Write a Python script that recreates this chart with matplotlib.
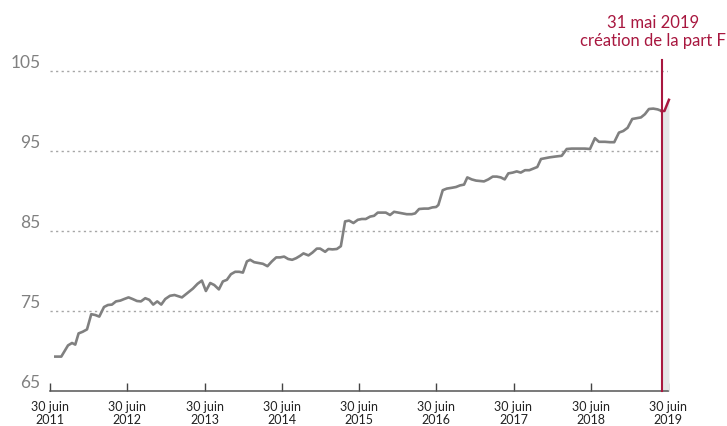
import matplotlib
matplotlib.use("Agg")
from matplotlib import pyplot as plt

# valeur liquidative (base ~100), dates en années décimales
dates = [2011.565, 2011.642, 2011.729, 2011.781, 2011.823, 2011.866, 2011.918, 2011.975,
         2012.030, 2012.082, 2012.134, 2012.195, 2012.246, 2012.298, 2012.350, 2012.406,
         2012.457, 2012.513, 2012.565, 2012.622, 2012.673, 2012.729, 2012.781, 2012.832,
         2012.884, 2012.936, 2012.988, 2013.049, 2013.108, 2013.204, 2013.268, 2013.346,
         2013.406, 2013.462, 2013.514, 2013.570, 2013.622, 2013.682, 2013.734, 2013.786,
         2013.838, 2013.893, 2013.945, 2013.993, 2014.045, 2014.087, 2014.139, 2014.195,
         2014.252, 2014.311, 2014.368, 2014.424, 2014.475, 2014.527, 2014.579, 2014.631,
         2014.682, 2014.734, 2014.777, 2014.842, 2014.893, 2014.950, 2014.993, 2015.058,
         2015.100, 2015.152, 2015.209, 2015.261, 2015.316, 2015.368, 2015.424, 2015.481,
         2015.532, 2015.584, 2015.640, 2015.691, 2015.739, 2015.799, 2015.843, 2015.898,
         2015.950, 2016.006, 2016.057, 2016.114, 2016.179, 2016.222, 2016.274, 2016.338,
         2016.394, 2016.446, 2016.494, 2016.523, 2016.580, 2016.632, 2016.697, 2016.752,
         2016.804, 2016.856, 2016.898, 2016.955, 2017.011, 2017.063, 2017.114, 2017.170,
         2017.227, 2017.279, 2017.331, 2017.382, 2017.429, 2017.486, 2017.538, 2017.590,
         2017.645, 2017.701, 2017.753, 2017.804, 2017.852, 2017.904, 2017.959, 2018.033,
         2018.120, 2018.185, 2018.249, 2018.335, 2018.421, 2018.486, 2018.550, 2018.602,
         2018.680, 2018.745, 2018.800, 2018.861, 2018.917, 2018.973, 2019.033, 2019.090,
         2019.146, 2019.197, 2019.249, 2019.305, 2019.362, 2019.414]
values = [69.3, 69.3, 70.7, 71.0, 70.8, 72.2, 72.4, 72.7,
          74.6, 74.5, 74.3, 75.5, 75.75, 75.8, 76.2, 76.3,
          76.5, 76.7, 76.5, 76.25, 76.2, 76.6, 76.4, 75.8,
          76.2, 75.8, 76.5, 76.9, 77.0, 76.7, 77.2, 77.8,
          78.4, 78.8, 77.5, 78.5, 78.25, 77.7, 78.7, 78.9,
          79.6, 79.9, 79.9, 79.8, 81.2, 81.4, 81.1, 81.0,
          80.9, 80.6, 81.2, 81.7, 81.7, 81.8, 81.5, 81.4,
          81.6, 81.9, 82.2, 81.95, 82.3, 82.8, 82.8, 82.4,
          82.75, 82.7, 82.75, 83.1, 86.2, 86.3, 86.0, 86.4,
          86.5, 86.5, 86.8, 86.9, 87.3, 87.3, 87.3, 87.0,
          87.4, 87.3, 87.2, 87.1, 87.1, 87.2, 87.75, 87.8,
          87.8, 87.95, 88.0, 88.25, 90.1, 90.3, 90.4, 90.5,
          90.7, 90.8, 91.7, 91.45, 91.3, 91.25, 91.2, 91.45,
          91.8, 91.8, 91.7, 91.45, 92.2, 92.3, 92.45, 92.3,
          92.6, 92.6, 92.8, 93.0, 94.0, 94.1, 94.2, 94.3,
          94.4, 95.25, 95.3, 95.3, 95.3, 95.25, 96.6, 96.15,
          96.15, 96.1, 96.1, 97.3, 97.5, 97.9, 99.0, 99.1,
          99.2, 99.6, 100.25, 100.3, 100.2, 100.0]

# part F, depuis sa création
part_f_dates = [2019.414, 2019.450, 2019.508]
part_f_values = [100.0, 100.0, 101.4]
part_f_start = 2019.414

tick_years = [2011, 2012, 2013, 2014, 2015, 2016, 2017, 2018, 2019]
tick_pos = [y + 0.496 for y in tick_years]
tick_labels = ["30 juin\n%d" % y for y in tick_years]
yticks = [65, 75, 85, 95, 105]

grey = "#808080"
red = "#a8173f"

plt.rcParams["font.family"] = ["Lato", "DejaVu Sans"]

fig = plt.figure(figsize=(7.27, 4.26), dpi=100)
ax = fig.add_axes([50 / 727, 35 / 426, 618 / 727, 336 / 426])

for y in yticks[1:]:
  ax.axhline(y, color="#a6a6a6", lw=1.0, ls=(0, (1.6, 2.4)), zorder=1)

ax.plot(dates, values, color=grey, lw=1.9, solid_joinstyle="round", zorder=3)

ax.fill_between(part_f_dates, part_f_values, 65, color="#e4e4e6", lw=0, zorder=2, clip_on=False)
ax.plot(part_f_dates, part_f_values, color=red, lw=1.8, zorder=4, clip_on=False)
ax.plot([part_f_start, part_f_start], [65, 106.4], color=red, lw=1.5, zorder=5, clip_on=False)
ax.annotate("31 mai 2019\ncréation de la part F", xy=(part_f_start, 106.4),
            xytext=(-6, 20), textcoords="offset points", ha="center", va="center",
            color=red, fontsize=12, linespacing=1.1, annotation_clip=False)

ax.set_xlim(2011.496, 2019.496)
ax.set_ylim(65, 107)

ax.set_xticks(tick_pos)
ax.set_xticklabels(tick_labels, fontsize=9, color="#222222", linespacing=1.15)
ax.set_yticks(yticks)
ax.set_yticklabels([str(v) for v in yticks], fontsize=12.5, color=grey, va="bottom")
ax.tick_params(axis="x", direction="in", length=6, width=1, color="#444444", pad=7)
ax.tick_params(axis="y", length=0, pad=7)

for side in ["left", "right", "top"]:
  ax.spines[side].set_visible(False)
ax.spines["bottom"].set_color("#555555")
ax.spines["bottom"].set_linewidth(1.1)

fig.savefig("out.png", dpi=100)
